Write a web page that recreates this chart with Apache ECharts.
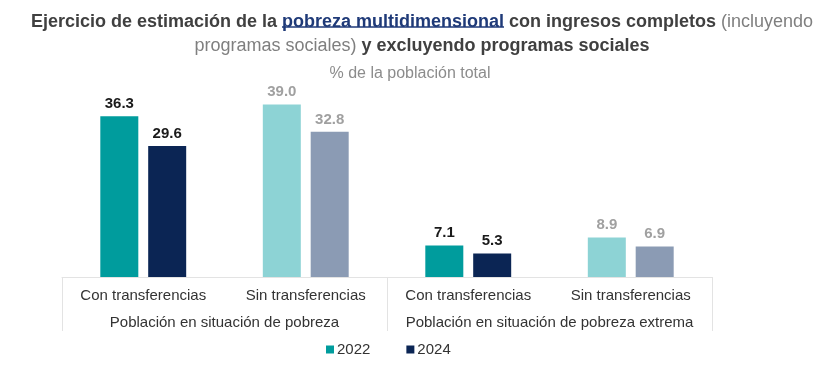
<!DOCTYPE html>
<html>
<head>
<meta charset="utf-8">
<script src="https://cdn.jsdelivr.net/npm/echarts@6/dist/echarts.min.js"></script>
<style>
  html, body { margin: 0; padding: 0; background: #fff; }
</style>
</head>
<body>
<div id="chart" style="width: 840px; height: 375px;"></div>
<script>
const categories = ['Con transferencias', 'Sin transferencias', 'Con transferencias', 'Sin transferencias'];
const groups = ['Población en situación de pobreza', 'Población en situación de pobreza extrema'];
const years = ['2022', '2024'];
const values2022 = [36.3, 39.0, 7.1, 8.9];
const values2024 = [29.6, 32.8, 5.3, 6.9];

// con transferencias = tonos fuertes, sin transferencias = tonos claros
const colorsByYear = {
  '2022': ['#009c9d', '#8dd3d5', '#009c9d', '#8dd3d5'],
  '2024': ['#0b2554', '#8b9bb4', '#0b2554', '#8b9bb4']
};
const labelColors = ['#1a1a1a', '#a0a0a0', '#1a1a1a', '#a0a0a0'];

const font = 'Liberation Sans, Arial, sans-serif';
const titleSize = 18;
const titleCenter = 422;
const titleParts = ['Ejercicio de estimación de la ', 'pobreza multidimensional', ' con ingresos completos ', '(incluyendo'];

// posicion del subrayado de "pobreza multidimensional"
const ctx = document.createElement('canvas').getContext('2d');
ctx.font = 'bold ' + titleSize + 'px "Liberation Sans"';
const w0 = ctx.measureText(titleParts[0]).width;
const w1 = ctx.measureText(titleParts[1]).width;
const w2 = ctx.measureText(titleParts[2]).width;
ctx.font = titleSize + 'px "Liberation Sans"';
const w3 = ctx.measureText(titleParts[3]).width;
const lineStart = titleCenter - (w0 + w1 + w2 + w3) / 2;

function buildData(values, year) {
  return values.map((v, i) => ({
    value: v,
    itemStyle: { color: colorsByYear[year][i] },
    label: { color: labelColors[i] }
  }));
}

const myChart = echarts.init(document.getElementById('chart'), null, { renderer: 'canvas' });

const option = {
  animation: false,
  title: [{
    left: titleCenter - 5,  // el padding del titulo desplaza 5px
    textAlign: 'center',
    top: 5,
    text: '{b|' + titleParts[0] + '}{u|' + titleParts[1] + '}{b|' + titleParts[2] + '}{n|' + titleParts[3] + '}\n{n|programas sociales)}{b| y excluyendo programas sociales}',
    textStyle: {
      fontFamily: font,
      rich: {
        b: { fontSize: titleSize, fontWeight: 'bold', color: '#404040', fontFamily: font, lineHeight: 24 },
        u: { fontSize: titleSize, fontWeight: 'bold', color: '#1f3a78', fontFamily: font, lineHeight: 24 },
        n: { fontSize: titleSize, fontWeight: 'normal', color: '#7f7f7f', fontFamily: font, lineHeight: 24 }
      }
    }
  }, {
    left: 405,
    textAlign: 'center',
    top: 61,
    text: '% de la población total',
    textStyle: { fontSize: 16, fontWeight: 'normal', color: '#8c8c8c', fontFamily: font }
  }],
  graphic: [{
    type: 'line',
    silent: true,
    shape: { x1: lineStart + w0, y1: 27, x2: lineStart + w0 + w1, y2: 27 },
    style: { stroke: '#1f3a78', lineWidth: 1.5 }
  }],
  legend: {
    bottom: 13,
    left: 321,
    itemWidth: 8,
    itemHeight: 8,
    itemGap: 36,
    icon: 'rect',
    data: years,
    textStyle: { fontSize: 15, color: '#333', fontFamily: font, padding: [0, 0, 0, -2] }
  },
  grid: { left: 62, right: 128, top: 100, bottom: 98 },
  xAxis: [{
    type: 'category',
    data: categories,
    axisLine: { lineStyle: { color: '#e3e3e3' } },
    axisTick: { show: false },
    axisLabel: { interval: 0, fontSize: 15, color: '#333', fontFamily: font, margin: 11 }
  }, {
    type: 'category',
    position: 'bottom',
    data: groups,
    axisLine: { show: false },
    axisTick: { show: true, length: 54, lineStyle: { color: '#e3e3e3' } },
    axisLabel: { interval: 0, fontSize: 15, color: '#333', fontFamily: font, margin: 38 }
  }],
  yAxis: {
    type: 'value',
    min: 0,
    max: 40,
    show: false
  },
  series: [{
    name: '2022',
    type: 'bar',
    xAxisIndex: 0,
    barWidth: 38,
    barGap: '26%',
    itemStyle: { color: '#009c9d' },
    label: { show: true, position: 'top', distance: 5, fontSize: 15, fontWeight: 'bold', fontFamily: font, formatter: p => p.value.toFixed(1) },
    data: buildData(values2022, '2022')
  }, {
    name: '2024',
    type: 'bar',
    xAxisIndex: 0,
    barWidth: 38,
    barGap: '26%',
    itemStyle: { color: '#0b2554' },
    label: { show: true, position: 'top', distance: 5, fontSize: 15, fontWeight: 'bold', fontFamily: font, formatter: p => p.value.toFixed(1) },
    data: buildData(values2024, '2024')
  }]
};

myChart.setOption(option);
window.addEventListener('resize', () => myChart.resize());
</script>
</body>
</html>
